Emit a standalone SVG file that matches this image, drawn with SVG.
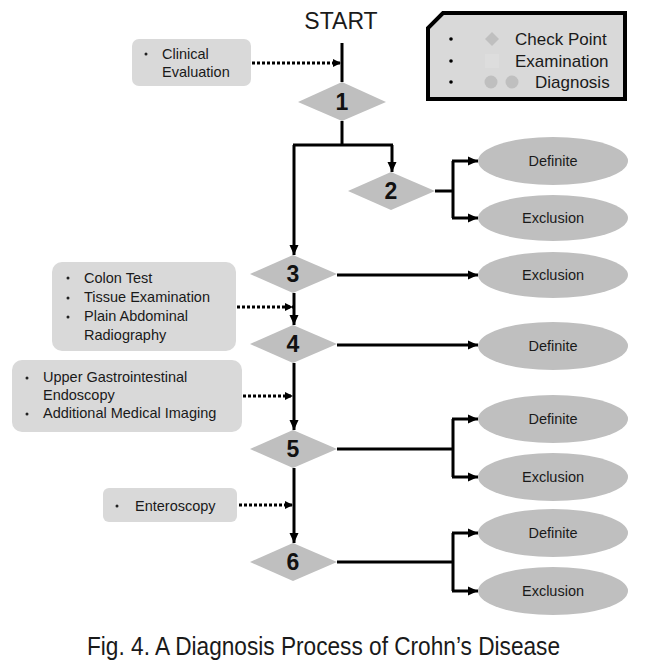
<svg xmlns="http://www.w3.org/2000/svg" width="648" height="665" viewBox="0 0 648 665">
<style>
text{font-family:"Liberation Sans",Arial,sans-serif;fill:#1a1a1a}
.box{fill:#d9d9d9}
.dia{fill:#bfbfbf}
.ell{fill:#bfbfbf}
.num{font-size:23px;font-weight:bold;text-anchor:middle;fill:#111}
.res{font-size:14.5px;text-anchor:middle}
.bt{font-size:14.5px}
.ln{fill:none;stroke:#000;stroke-width:3}
.dot{fill:none;stroke:#000;stroke-width:3;stroke-dasharray:3 2}
</style>
<defs>
<marker id="ah" markerUnits="userSpaceOnUse" markerWidth="10" markerHeight="10" refX="10" refY="5" orient="auto"><path d="M0,0.5 L10,5 L0,9.5 Z" fill="#000"/></marker>
<marker id="dh" markerUnits="userSpaceOnUse" markerWidth="8" markerHeight="9" refX="8" refY="4.5" orient="auto"><path d="M0,0.5 L8,4.5 L0,8.5 Z" fill="#000"/></marker>
</defs>
<rect width="648" height="665" fill="#fff"/>

<g id="start"><text x="341" y="29" font-size="23" text-anchor="middle" fill="#111">START</text></g>

<g id="legend">
<path d="M443,13 H625 V99 H428 V28 Z" fill="#d9d9d9" stroke="#000" stroke-width="4"/>
<circle cx="451" cy="39" r="1.8" fill="#000"/>
<circle cx="451" cy="61" r="1.8" fill="#000"/>
<circle cx="451" cy="82" r="1.8" fill="#000"/>
<path d="M492,32 L499,39 L492,46 L485,39 Z" fill="#bfbfbf"/>
<rect x="485" y="54" width="14" height="14" fill="#dddddd"/>
<circle cx="491" cy="82" r="6.5" fill="#bfbfbf"/>
<circle cx="512" cy="82" r="6.5" fill="#bfbfbf"/>
<text x="515" y="45" font-size="17">Check Point</text>
<text x="515" y="67" font-size="17">Examination</text>
<text x="535" y="88" font-size="17">Diagnosis</text>
</g>

<g id="box-clinical">
<rect class="box" x="132" y="39" width="119" height="47" rx="7"/>
<circle cx="146" cy="54" r="1.5" fill="#222"/>
<text class="bt" x="162" y="59">Clinical</text>
<text class="bt" x="162" y="77">Evaluation</text>
</g>

<g id="box-colon">
<rect class="box" x="52" y="262" width="184" height="89" rx="10"/>
<circle cx="68" cy="278" r="1.5" fill="#222"/>
<circle cx="68" cy="298" r="1.5" fill="#222"/>
<circle cx="68" cy="317" r="1.5" fill="#222"/>
<text class="bt" x="84" y="283">Colon Test</text>
<text class="bt" x="84" y="302">Tissue Examination</text>
<text class="bt" x="84" y="321">Plain Abdominal</text>
<text class="bt" x="84" y="340">Radiography</text>
</g>

<g id="box-upper">
<rect class="box" x="12" y="360" width="230" height="72" rx="10"/>
<circle cx="27" cy="378" r="1.5" fill="#222"/>
<circle cx="27" cy="414" r="1.5" fill="#222"/>
<text class="bt" x="43" y="382">Upper Gastrointestinal</text>
<text class="bt" x="43" y="400">Endoscopy</text>
<text class="bt" x="43" y="418">Additional Medical Imaging</text>
</g>

<g id="box-entero">
<rect class="box" x="103" y="488" width="134" height="34" rx="6"/>
<circle cx="117" cy="506" r="1.5" fill="#222"/>
<text class="bt" x="135" y="511">Enteroscopy</text>
</g>

<g id="connectors">
<path class="ln" d="M342,43 V82"/>
<path class="ln" d="M342,121 V145"/>
<path class="ln" d="M293,145 H393"/>
<path class="ln" d="M392,145 V172" marker-end="url(#ah)"/>
<path class="ln" d="M294,145 V255" marker-end="url(#ah)"/>
<path class="ln" d="M435,191 H453 M453,161 V218"/>
<path class="ln" d="M452,161 H478" marker-end="url(#ah)"/>
<path class="ln" d="M452,218 H478" marker-end="url(#ah)"/>
<path class="ln" d="M337,275 H478" marker-end="url(#ah)"/>
<path class="ln" d="M294,293 V325" marker-end="url(#ah)"/>
<path class="ln" d="M337,345 H478" marker-end="url(#ah)"/>
<path class="ln" d="M294,363 V430" marker-end="url(#ah)"/>
<path class="ln" d="M337,449 H453 M453,419 V477"/>
<path class="ln" d="M452,419 H478" marker-end="url(#ah)"/>
<path class="ln" d="M452,477 H478" marker-end="url(#ah)"/>
<path class="ln" d="M294,468 V543" marker-end="url(#ah)"/>
<path class="ln" d="M337,562 H453 M453,533 V591"/>
<path class="ln" d="M452,533 H478" marker-end="url(#ah)"/>
<path class="ln" d="M452,591 H478" marker-end="url(#ah)"/>
<path class="dot" d="M252,63 H341" marker-end="url(#dh)"/>
<path class="dot" d="M237,307 H293" marker-end="url(#dh)"/>
<path class="dot" d="M243,396 H293" marker-end="url(#dh)"/>
<path class="dot" d="M239,505 H293" marker-end="url(#dh)"/>
</g>

<g id="cp1"><path class="dia" d="M298,102 L342,82 L386,102 L342,121 Z"/><text class="num" x="342" y="110">1</text></g>
<g id="cp2"><path class="dia" d="M348,191 L391,172 L435,191 L391,210 Z"/><text class="num" x="391" y="199">2</text></g>
<g id="cp3"><path class="dia" d="M250,274 L293,255 L337,274 L293,293 Z"/><text class="num" x="293" y="282">3</text></g>
<g id="cp4"><path class="dia" d="M250,344 L293,325 L337,344 L293,363 Z"/><text class="num" x="293" y="352">4</text></g>
<g id="cp5"><path class="dia" d="M250,449 L293,430 L337,449 L293,468 Z"/><text class="num" x="293" y="457">5</text></g>
<g id="cp6"><path class="dia" d="M250,562 L293,543 L337,562 L293,581 Z"/><text class="num" x="293" y="570">6</text></g>

<g id="d2-def"><ellipse class="ell" cx="553" cy="161" rx="75" ry="24"/><text class="res" x="553" y="166">Definite</text></g>
<g id="d2-exc"><ellipse class="ell" cx="553" cy="218" rx="75" ry="23"/><text class="res" x="553" y="223">Exclusion</text></g>
<g id="d3-exc"><ellipse class="ell" cx="553" cy="275" rx="75" ry="23"/><text class="res" x="553" y="280">Exclusion</text></g>
<g id="d4-def"><ellipse class="ell" cx="553" cy="346" rx="75" ry="24"/><text class="res" x="553" y="351">Definite</text></g>
<g id="d5-def"><ellipse class="ell" cx="553" cy="419" rx="75" ry="24"/><text class="res" x="553" y="424">Definite</text></g>
<g id="d5-exc"><ellipse class="ell" cx="553" cy="477" rx="75" ry="24"/><text class="res" x="553" y="482">Exclusion</text></g>
<g id="d6-def"><ellipse class="ell" cx="553" cy="533" rx="75" ry="24"/><text class="res" x="553" y="538">Definite</text></g>
<g id="d6-exc"><ellipse class="ell" cx="553" cy="591" rx="75" ry="24"/><text class="res" x="553" y="596">Exclusion</text></g>

<g id="caption"><text x="87" y="655" font-size="26" textLength="473" lengthAdjust="spacingAndGlyphs" fill="#111">Fig. 4. A Diagnosis Process of Crohn’s Disease</text></g>
</svg>
